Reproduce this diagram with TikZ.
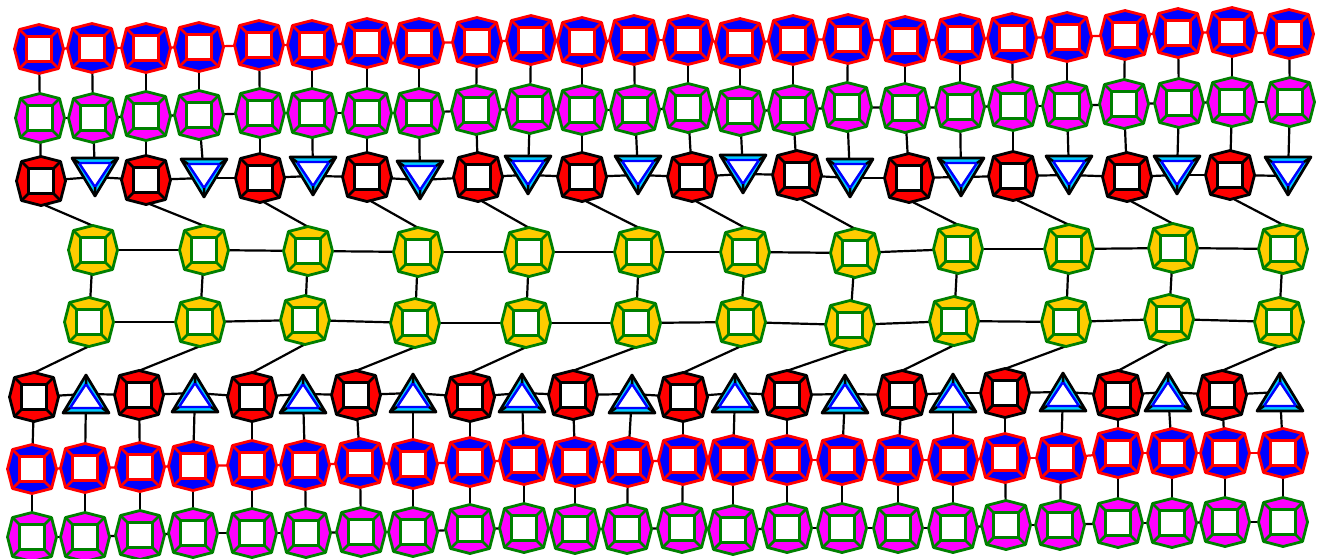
\documentclass[tikz,border=0pt]{standalone}
\usetikzlibrary{calc}
\definecolor{tgreen}{RGB}{0,128,0}
\definecolor{tcyan}{RGB}{0,204,255}
\definecolor{tyellow}{RGB}{255,204,0}
\definecolor{tmagenta}{RGB}{255,0,255}
\definecolor{tblue}{RGB}{0,0,255}
\definecolor{tred}{RGB}{255,0,0}
\tikzset{
  vtx/.style={inner sep=0pt, minimum size=48pt, draw=none},
  link/.style={line width=2.2pt, black},
  rlink/.style={line width=2.2pt, tred},
  pics/oct/.style 2 args={code={
    \filldraw[fill=#1, draw=#2, line width=2.8pt, line join=round]
      (-24.5,0)--(-19.5,-19.5)--(0,-24.5)--(19.5,-19.5)--(24.5,0)--(19.5,19.5)--(0,24.5)--(-19.5,19.5)--cycle;
    \draw[#2, line width=2.8pt] (-19.5,-19.5)--(-12.5,-12.5) (19.5,-19.5)--(12.5,-12.5) (19.5,19.5)--(12.5,12.5) (-19.5,19.5)--(-12.5,12.5);
    \filldraw[fill=white, draw=#2, line width=2.8pt] (-12.5,-12.5) rectangle (12.5,12.5);
  }},
  pics/tdown/.style={code={
    \filldraw[fill=tcyan, draw=black, line width=2.7pt, line join=round] (-23,-19)--(23,-19)--(0,19)--cycle;
    \filldraw[fill=white, draw=tblue, line width=2.4pt, line join=round] (-16,-14)--(16,-14)--(0,10)--cycle;
    \draw[black, line width=2.5pt] (-23,-19)--(-16,-14) (23,-19)--(16,-14) (0,19)--(0,10);
  }},
  pics/tup/.style={code={
    \filldraw[fill=tcyan, draw=black, line width=2.7pt, line join=round] (-23,19)--(23,19)--(0,-19)--cycle;
    \filldraw[fill=white, draw=tblue, line width=2.4pt, line join=round] (-16,14)--(16,14)--(0,-10)--cycle;
    \draw[black, line width=2.5pt] (-23,19)--(-16,14) (23,19)--(16,14) (0,-19)--(0,-10);
  }},
}
\begin{document}
\begin{tikzpicture}[x=1pt, y=-1pt]
\useasboundingbox (0,0) rectangle (1325,558);
% ---- vertices ----
\foreach \x/\y [count=\i] in {39/49,92/48,146/48,199/47,259/45,312/45,367/43,419/43,477/42,531/40,582/42,634/40,688/40,740/43,793/40,848/39,905/41,960/39,1012/38,1067/37,1125/35,1178/33,1232/32,1289/34}
  \node[vtx] (a\i) at (\x,\y) {};
\foreach \x/\y [count=\i] in {40/118,93/118,146/116,199/115,260/113,312/113,367/113,419/113,476/110,530/109,582/110,635/110,688/108,740/111,793/110,847/107,905/108,960/107,1013/106,1067/106,1124/104,1179/103,1232/102,1290/102}
  \node[vtx] (b\i) at (\x,\y) {};
\foreach \x/\y [count=\i] in {41/181,95/177,146/180,204/178,260/178,313/176,367/177,420/180,478/177,528/175,582/177,638/175,692/177,743/174,797/175,850/178,909/178,961/177,1013/176,1069/175,1127/177,1177/175,1230/175,1288/176}
  \node[vtx] (c\i) at (\x,\y) {};
\foreach \x/\y [count=\i] in {93/250,204/250,308/251,418/252,529/252,639/252,745/252,855/253,958/249,1069/249,1173/248,1283/249}
  \node[vtx] (d\i) at (\x,\y) {};
\foreach \x/\y [count=\i] in {89/322,200/322,305/320,415/323,526/323,636/323,741/322,850/325,954/321,1066/322,1169/319,1279/322}
  \node[vtx] (e\i) at (\x,\y) {};
\foreach \x/\y [count=\i] in {34/397,86/394,139/395,195/393,252/397,303/394,356/395,413/393,470/397,522/393,573/395,632/394,683/397,735/393,787/395,845/394,902/395,953/393,1005/393,1063/392,1118/395,1168/392,1222/395,1280/392}
  \node[vtx] (f\i) at (\x,\y) {};
\foreach \x/\y [count=\i] in {32/469,85/468,140/467,193/466,252/465,305/465,360/463,413/464,470/462,524/460,575/462,628/462,683/460,733/460,787/460,842/460,898/460,953/460,1005/458,1061/458,1118/453,1172/453,1225/453,1283/453}
  \node[vtx] (g\i) at (\x,\y) {};
\foreach \x/\y [count=\i] in {32/537,85/537,140/535,193/533,252/533,306/533,361/532,413/532,470/529,524/528,575/529,627/529,682/528,733/530,787/528,842/528,898/528,953/528,1006/525,1060/525,1118/523,1172/523,1225/522,1283/522}
  \node[vtx] (h\i) at (\x,\y) {};
% ---- connectors ----
\foreach \i [evaluate=\i as \n using int(\i+1)] in {1,...,23} {
  \draw[rlink] (a\i.center) -- (a\n.center);
  \draw[link] (b\i.center) -- (b\n.center);
  \draw[link] (c\i.center) -- (c\n.center);
  \draw[link] (f\i.center) -- (f\n.center);
  \draw[rlink] (g\i.center) -- (g\n.center);
  \draw[link] (h\i.center) -- (h\n.center);
}
\foreach \i in {1,...,24} {
  \draw[link] (a\i.center) -- (b\i.center);
  \draw[link] (b\i.center) -- (c\i.center);
  \draw[link] (f\i.center) -- (g\i.center);
  \draw[link] (g\i.center) -- (h\i.center);
}
\foreach \i [evaluate=\i as \n using int(\i+1)] in {1,...,11} {
  \draw[link] (d\i.center) -- (d\n.center);
  \draw[link] (e\i.center) -- (e\n.center);
}
\foreach \k [evaluate=\k as \j using int(2*\k-1)] in {1,...,12} {
  \draw[link] (d\k.center) -- (e\k.center);
  \draw[link] ([xshift=4pt]c\j.south) -- (d\k.north);
  \draw[link] (e\k.south) -- (f\j.north);
}
% ---- icons ----
\foreach \i in {1,...,24} {
  \pic at (a\i) {oct={tblue}{tred}};
  \pic at (b\i) {oct={tmagenta}{tgreen}};
  \pic at (g\i) {oct={tblue}{tred}};
  \pic at (h\i) {oct={tmagenta}{tgreen}};
  \ifodd\i\relax
    \pic at (c\i) {oct={tred}{black}};
    \pic at (f\i) {oct={tred}{black}};
  \else
    \pic at (c\i) {tdown};
    \pic at (f\i) {tup};
  \fi
}
\foreach \k in {1,...,12} {
  \pic at (d\k) {oct={tyellow}{tgreen}};
  \pic at (e\k) {oct={tyellow}{tgreen}};
}
\end{tikzpicture}
\end{document}
